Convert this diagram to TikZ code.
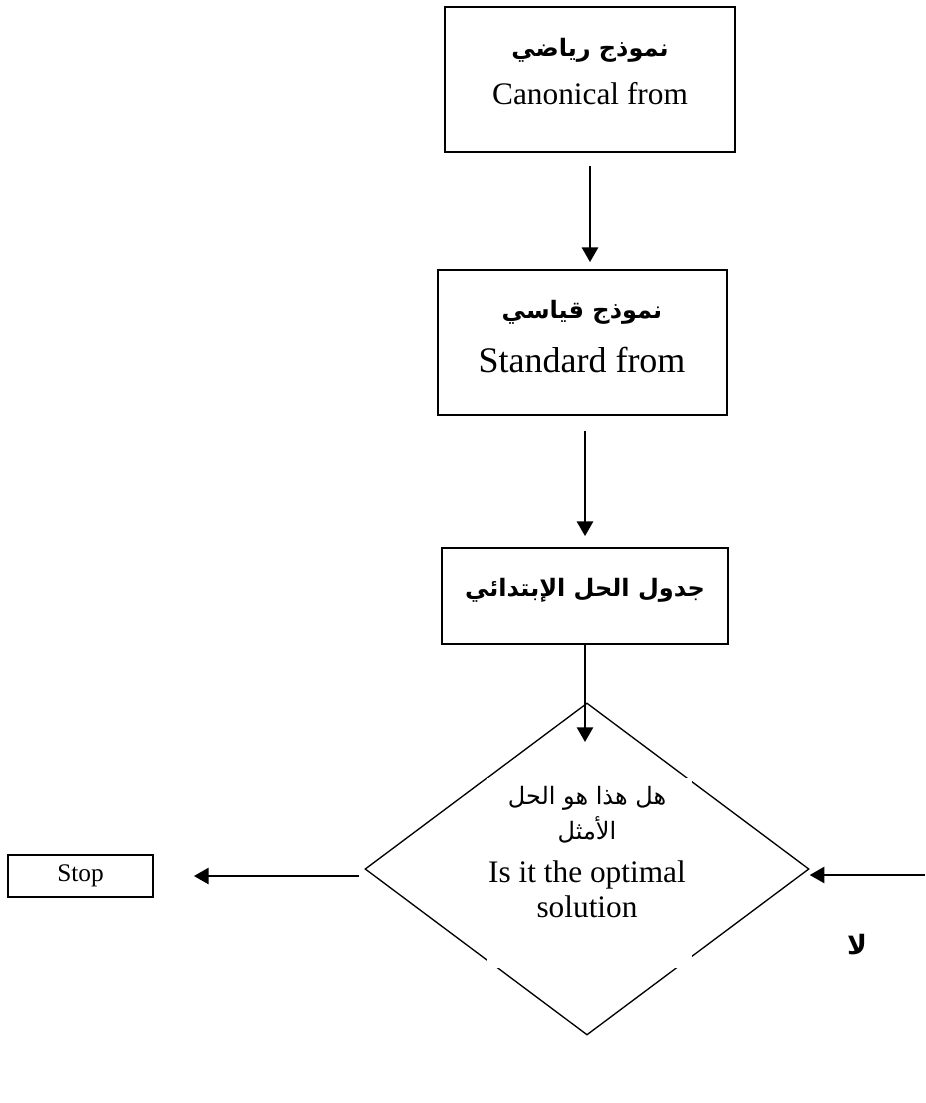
\documentclass[tikz,border=0pt]{standalone}
\usepackage{fontspec}
\setmainfont{Liberation Serif}
\newfontfamily\arabicfont[Script=Arabic]{DejaVu Sans}
\TeXXeTstate=1
\usetikzlibrary{shapes.geometric,arrows.meta}
\begin{document}
\begin{tikzpicture}[x=0.75pt,y=-0.75pt,
  box/.style={draw, line width=1.3pt, inner sep=0pt},
  arr/.style={line width=1.9pt, -{Triangle[length=11pt,width=12pt]}},
  arb/.style={font=\arabicfont\bfseries\fontsize{#1}{#1}\selectfont, inner sep=0pt},
  arn/.style={font=\arabicfont\fontsize{#1}{#1}\selectfont, inner sep=0pt},
  lat/.style={font=\fontsize{#1}{#1}\selectfont, inner sep=0pt, anchor=base}]
\useasboundingbox (0,0) rectangle (925,1103);
% boxes
\node[box, minimum width=217.5pt, minimum height=108.75pt] (b1) at (590,79.5) {};
\node[box, minimum width=216.75pt, minimum height=108.75pt] (b2) at (582.5,342.5) {};
\node[box, minimum width=214.5pt, minimum height=72pt] (b3) at (585,596) {};
\node[diamond, draw, line width=1pt, minimum width=333pt, minimum height=249pt, inner sep=0pt] (d) at (587,869) {};
\node[fill=white, minimum width=153.75pt, minimum height=142.5pt, inner sep=0pt] (dbox) at (589.5,873) {};
\node[box, minimum width=108.75pt, minimum height=31.5pt, font=\fontsize{19}{19}\selectfont] (stop) at (80.5,876) {Stop};
% texts
\node[arb=18] (t1a) at (590,50) {\beginR نموذج رياضي\endR};
\node[lat=23.5] (t1b) at (590,104) {Canonical from};
\node[arb=18] (t2a) at (582,312) {\beginR نموذج قياسي\endR};
\node[lat=27] (t2b) at (582,372) {Standard from};
\node[arb=18] (t3) at (585,590) {\beginR جدول الحل الإبتدائي\endR};
\node[arn=18] (q1) at (587,798) {\beginR هل هذا هو الحل\endR};
\node[arn=18] (q2) at (587,830) {\beginR الأمثل\endR};
\node[lat=23.5] (q3) at (587,882) {Is it the optimal};
\node[lat=23.5] (q4) at (587,917) {solution};
\node[arb=20] (no) at (857,945) {\beginR لا\endR};
% connectors
\coordinate (atip) at (585,742);
\coordinate (rin) at (925,875);
\draw[arr, shorten <=9.75pt, shorten >=5.25pt] (b1.south) -- (b1.south |- b2.north);
\draw[arr, shorten <=11.25pt, shorten >=8.25pt] (b3.north |- b2.south) -- (b3.north);
\draw[arr] (b3.south) -- (atip);
\draw[arr, shorten <=3.75pt, shorten >=30pt] (d.west |- stop.east) -- (stop.east);
\draw[arr] (rin) -- (rin -| d.east);
\end{tikzpicture}
\end{document}
